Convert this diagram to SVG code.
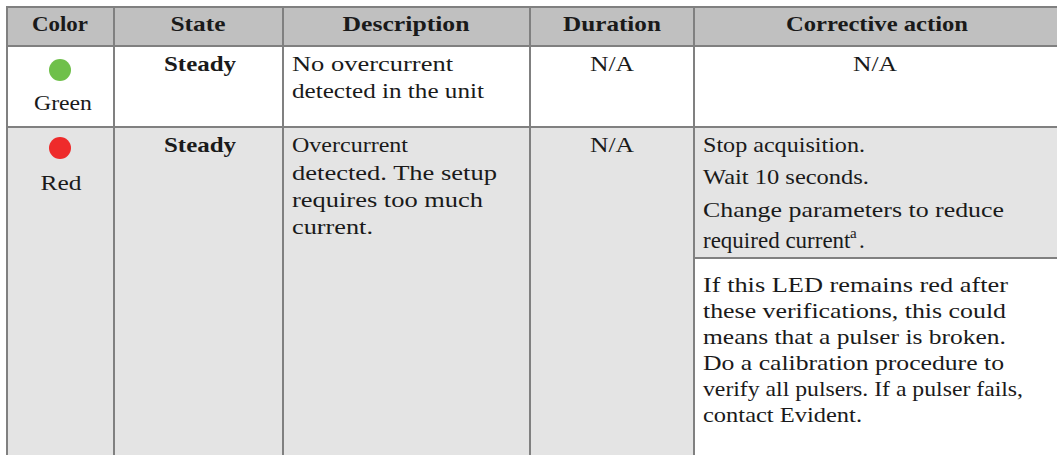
<svg xmlns="http://www.w3.org/2000/svg" width="1057" height="455" viewBox="0 0 1057 455">
<style>
.t{font-family:"Liberation Serif","DejaVu Serif",serif;font-size:21px;fill:#1a1a1a}
.b{font-weight:bold}
.c{text-anchor:middle}
.ln{stroke:#808080;stroke-width:2;fill:none}
</style>
<rect width="1057" height="455" fill="#ffffff"/>
<g id="header">
<rect x="7" y="7" width="1052" height="39" fill="#c0c0c0"/>
<text class="t b c" x="60" y="31" textLength="56" lengthAdjust="spacingAndGlyphs">Color</text>
<text class="t b c" x="198" y="31" textLength="55" lengthAdjust="spacingAndGlyphs">State</text>
<text class="t b c" x="406" y="31" textLength="127" lengthAdjust="spacingAndGlyphs">Description</text>
<text class="t b c" x="612" y="31" textLength="98" lengthAdjust="spacingAndGlyphs">Duration</text>
<text class="t b c" x="877" y="31" textLength="182" lengthAdjust="spacingAndGlyphs">Corrective action</text>
</g>
<g id="row-green">
<circle cx="60" cy="70" r="11" fill="#6fc04a"/>
<text class="t c" x="63" y="110" textLength="58" lengthAdjust="spacingAndGlyphs">Green</text>
<text class="t b c" x="200" y="71" textLength="72" lengthAdjust="spacingAndGlyphs">Steady</text>
<text class="t" x="292" y="71" textLength="161" lengthAdjust="spacingAndGlyphs">No overcurrent</text>
<text class="t" x="292" y="98" textLength="192" lengthAdjust="spacingAndGlyphs">detected in the unit</text>
<text class="t c" x="612" y="71" textLength="44" lengthAdjust="spacingAndGlyphs">N/A</text>
<text class="t c" x="875" y="71" textLength="44" lengthAdjust="spacingAndGlyphs">N/A</text>
</g>
<g id="row-red">
<rect x="7" y="127" width="1052" height="330" fill="#e4e4e4"/>
<rect x="694" y="258" width="365" height="199" fill="#ffffff"/>
<circle cx="60" cy="148" r="11" fill="#ee2b2b"/>
<text class="t c" x="61" y="190" textLength="41" lengthAdjust="spacingAndGlyphs">Red</text>
<text class="t b c" x="200" y="152" textLength="72" lengthAdjust="spacingAndGlyphs">Steady</text>
<text class="t" x="292" y="152" textLength="116" lengthAdjust="spacingAndGlyphs">Overcurrent</text>
<text class="t" x="292" y="180" textLength="205" lengthAdjust="spacingAndGlyphs">detected. The setup</text>
<text class="t" x="292" y="207" textLength="191" lengthAdjust="spacingAndGlyphs">requires too much</text>
<text class="t" x="292" y="234" textLength="81" lengthAdjust="spacingAndGlyphs">current.</text>
<text class="t c" x="612" y="152" textLength="44" lengthAdjust="spacingAndGlyphs">N/A</text>
<text class="t" x="703" y="152" textLength="162" lengthAdjust="spacingAndGlyphs">Stop acquisition.</text>
<text class="t" x="703" y="184" textLength="166" lengthAdjust="spacingAndGlyphs">Wait 10 seconds.</text>
<text class="t" x="703" y="217" textLength="301" lengthAdjust="spacingAndGlyphs">Change parameters to reduce</text>
<text class="t" x="703" y="248" style="font-size:23px">required current</text>
<text class="t" x="850" y="238" style="font-size:15px">a</text>
<text class="t" x="859" y="248" style="font-size:23px">.</text>
<text class="t" x="703" y="292" textLength="305" lengthAdjust="spacingAndGlyphs">If this LED remains red after</text>
<text class="t" x="703" y="318" textLength="303" lengthAdjust="spacingAndGlyphs">these verifications, this could</text>
<text class="t" x="703" y="344" textLength="303" lengthAdjust="spacingAndGlyphs">means that a pulser is broken.</text>
<text class="t" x="703" y="370" textLength="301" lengthAdjust="spacingAndGlyphs">Do a calibration procedure to</text>
<text class="t" x="703" y="396" textLength="320" lengthAdjust="spacingAndGlyphs">verify all pulsers. If a pulser fails,</text>
<text class="t" x="703" y="422" textLength="159" lengthAdjust="spacingAndGlyphs">contact Evident.</text>
</g>
<g id="grid">
<line class="ln" x1="6" y1="7" x2="1059" y2="7"/>
<line class="ln" x1="6" y1="46" x2="1059" y2="46"/>
<line class="ln" x1="6" y1="127" x2="1059" y2="127"/>
<line class="ln" x1="694" y1="258" x2="1059" y2="258"/>
<line class="ln" x1="7" y1="6" x2="7" y2="457"/>
<line class="ln" x1="114" y1="6" x2="114" y2="457"/>
<line class="ln" x1="283" y1="6" x2="283" y2="457"/>
<line class="ln" x1="530" y1="6" x2="530" y2="457"/>
<line class="ln" x1="694" y1="6" x2="694" y2="457"/>
</g>
</svg>
